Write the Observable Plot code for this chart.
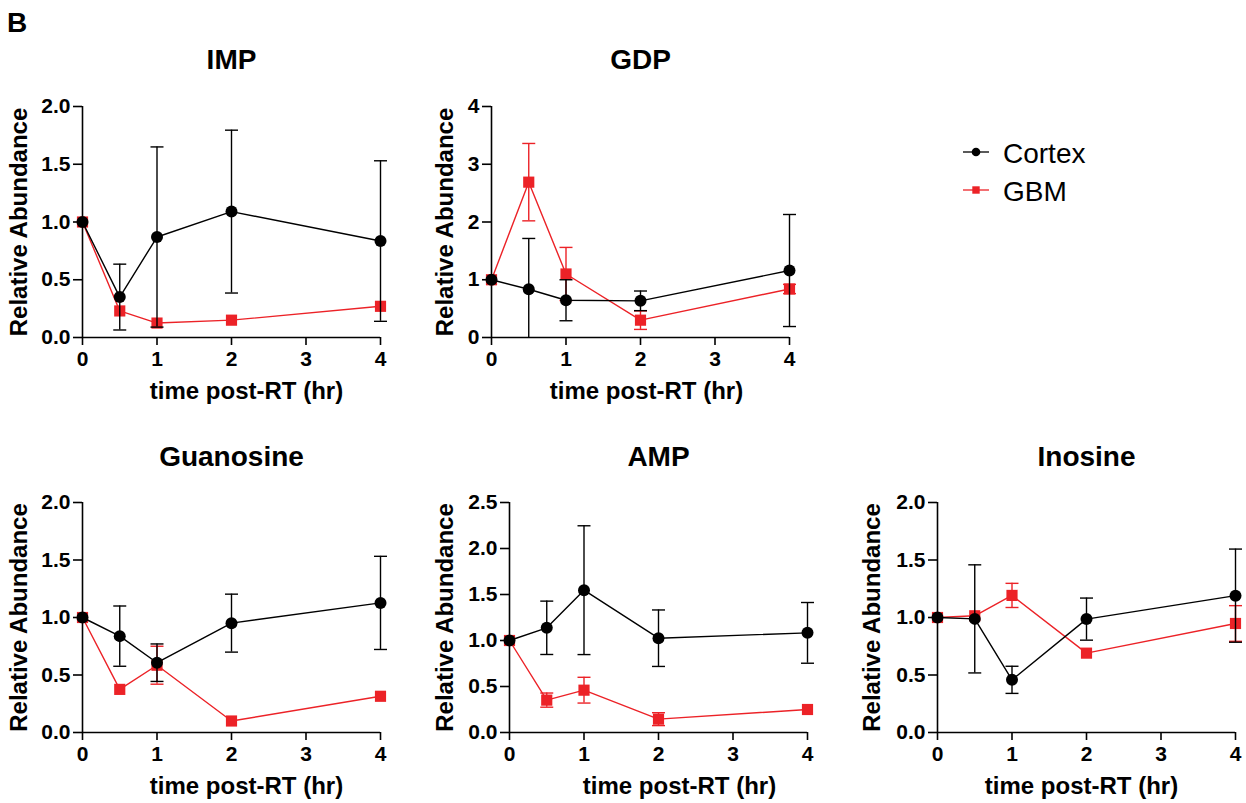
<!DOCTYPE html>
<html>
<head>
<meta charset="utf-8">
<script src="https://cdn.jsdelivr.net/npm/d3@7"></script>
<script src="https://cdn.jsdelivr.net/npm/@observablehq/plot@0.6"></script>
<style>
  html, body { margin: 0; padding: 0; background: #fff; }
  #page { position: relative; width: 1246px; height: 803px; overflow: hidden; background: #fff;
          font-family: "Liberation Sans", Arial, Helvetica, sans-serif; }
  #page > svg, #page > div { position: absolute; }
</style>
</head>
<body>
<div id="page"></div>
<script>
// ---------- data ----------
const times = [0, 0.5, 1, 2, 4];
const xTicks = [0, 1, 2, 3, 4];
const seriesNames = ["Cortex", "GBM"];

const impCortex    = [1.00, 0.35, 0.87, 1.09, 0.835];
const impCortexErr = [0.00, 0.285, 0.78, 0.705, 0.695];
const impGBM       = [1.00, 0.23, 0.125, 0.15, 0.27];
const impGBMErr    = [0.00, 0.00, 0.00, 0.00, 0.00];

const gdpCortex    = [1.00, 0.835, 0.645, 0.635, 1.16];
const gdpCortexErr = [0.00, 0.88, 0.355, 0.17, 0.97];
const gdpGBM       = [1.00, 2.69, 1.10, 0.30, 0.84];
const gdpGBMErr    = [0.00, 0.67, 0.46, 0.16, 0.08];

const guaCortex    = [1.00, 0.838, 0.607, 0.951, 1.127];
const guaCortexErr = [0.00, 0.262, 0.163, 0.252, 0.405];
const guaGBM       = [1.00, 0.375, 0.585, 0.10, 0.315];
const guaGBMErr    = [0.00, 0.00, 0.165, 0.00, 0.00];

const ampCortex    = [1.00, 1.138, 1.547, 1.025, 1.083];
const ampCortexErr = [0.00, 0.29, 0.70, 0.307, 0.33];
const ampGBM       = [1.00, 0.352, 0.46, 0.145, 0.25];
const ampGBMErr    = [0.00, 0.077, 0.14, 0.07, 0.00];

const inoCortex    = [1.00, 0.988, 0.458, 0.986, 1.19];
const inoCortexErr = [0.00, 0.47, 0.118, 0.183, 0.405];
const inoGBM       = [1.00, 1.015, 1.192, 0.69, 0.948];
const inoGBMErr    = [0.00, 0.00, 0.105, 0.00, 0.155];

const yTicks2  = [0, 0.5, 1, 1.5, 2];
const yTicks4  = [0, 1, 2, 3, 4];
const yTicks25 = [0, 0.5, 1, 1.5, 2, 2.5];

const panelTitles = ["IMP", "GDP", "Guanosine", "AMP", "Inosine"];
const xLabel = "time post-RT (hr)";
const yLabel = "Relative Abundance";

// ---------- styles / layout ----------
const BLACK = "#000000";
const RED = "#ec2227";
const FONT = "'Liberation Sans', Arial, Helvetica, sans-serif";

const panels = [
  {title: panelTitles[0], cortex: impCortex, cortexErr: impCortexErr, gbm: impGBM, gbmErr: impGBMErr,
   ymax: 2, yTicks: yTicks2, fmt: d3.format(".1f"),
   left: 0, top: 30, width: 420, mL: 82, mR: 40, mT: 76, mB: 71, titleDy: -46, xlDx: 15, ylDx: -73},
  {title: panelTitles[1], cortex: gdpCortex, cortexErr: gdpCortexErr, gbm: gdpGBM, gbmErr: gdpGBMErr,
   ymax: 4, yTicks: yTicks4, fmt: d3.format("d"),
   left: 410, top: 30, width: 420, mL: 81, mR: 41, mT: 76, mB: 71, titleDy: -46, xlDx: 6, ylDx: -56},
  {title: panelTitles[2], cortex: guaCortex, cortexErr: guaCortexErr, gbm: guaGBM, gbmErr: guaGBMErr,
   ymax: 2, yTicks: yTicks2, fmt: d3.format(".1f"),
   left: 0, top: 425, width: 420, mL: 82, mR: 40, mT: 77, mB: 71, titleDy: -45, xlDx: 15, ylDx: -73},
  {title: panelTitles[3], cortex: ampCortex, cortexErr: ampCortexErr, gbm: ampGBM, gbmErr: ampGBMErr,
   ymax: 2.5, yTicks: yTicks25, fmt: d3.format(".1f"),
   left: 428, top: 425, width: 420, mL: 81, mR: 41, mT: 77, mB: 71, titleDy: -45, xlDx: 21, ylDx: -74},
  {title: panelTitles[4], cortex: inoCortex, cortexErr: inoCortexErr, gbm: inoGBM, gbmErr: inoGBMErr,
   ymax: 2, yTicks: yTicks2, fmt: d3.format(".1f"),
   left: 856, top: 425, width: 390, mL: 81, mR: 11, mT: 77, mB: 71, titleDy: -45, xlDx: -5, ylDx: -75}
];

// horizontal error-bar cap as a custom symbol
const capSymbol = {
  draw(context, size) {
    const r = Math.sqrt(size / Math.PI);
    context.moveTo(-r, 0);
    context.lineTo(r, 0);
  }
};

function rows(means, errs) {
  return times.map((t, i) => ({
    t, m: means[i], e: errs[i],
    lo: Math.max(0, means[i] - errs[i]), hi: means[i] + errs[i]
  }));
}

function seriesMarks(data, color, symbol, r) {
  const withErr = data.filter(d => d.e > 0);
  return [
    Plot.ruleX(withErr, {x: "t", y1: "lo", y2: "hi", stroke: color, strokeWidth: 1.4}),
    Plot.dot(withErr, {x: "t", y: "hi", symbol: capSymbol, r: 6.5, fill: "none", stroke: color, strokeWidth: 1.4}),
    Plot.dot(withErr.filter(d => d.lo > 0), {x: "t", y: "lo", symbol: capSymbol, r: 6.5, fill: "none", stroke: color, strokeWidth: 1.4}),
    Plot.line(data, {x: "t", y: "m", stroke: color, strokeWidth: 1.4}),
    Plot.dot(data, {x: "t", y: "m", symbol, r, fill: color, stroke: "none"})
  ];
}

const page = document.getElementById("page");
const H = 378;

for (const p of panels) {
  const chart = Plot.plot({
    width: p.width, height: H,
    marginLeft: p.mL, marginRight: p.mR, marginTop: p.mT, marginBottom: p.mB,
    style: {fontFamily: FONT, fontWeight: "bold", fontSize: "21px", color: BLACK, background: "transparent", overflow: "visible"},
    x: {domain: [0, 4]},
    y: {domain: [0, p.ymax]},
    marks: [
      Plot.axisX({ticks: xTicks, tickFormat: d3.format("d"), tickSize: 8, tickPadding: 6, strokeWidth: 1.6, fontSize: 21, label: null}),
      Plot.axisY({ticks: p.yTicks, tickFormat: p.fmt, tickSize: 9, tickPadding: 3, strokeWidth: 1.6, fontSize: 21, label: null}),
      Plot.ruleY([0], {stroke: BLACK, strokeWidth: 1.6}),
      Plot.ruleX([0], {stroke: BLACK, strokeWidth: 1.6}),
      ...seriesMarks(rows(p.gbm, p.gbmErr), RED, "square", 6.3),
      ...seriesMarks(rows(p.cortex, p.cortexErr), BLACK, "circle", 6),
      Plot.text([p.title], {text: d => d, frameAnchor: "top", dy: p.titleDy, lineAnchor: "middle",
                            fontSize: 28, fontWeight: "bold", fill: BLACK}),
      Plot.text([xLabel], {text: d => d, frameAnchor: "bottom", dy: 44, dx: p.xlDx, lineAnchor: "top",
                           fontSize: 24, fontWeight: "bold", fill: BLACK}),
      Plot.text([yLabel], {text: d => d, frameAnchor: "left", rotate: -90, dx: p.ylDx, lineAnchor: "top",
                           textAnchor: "middle", fontSize: 24, fontWeight: "bold", fill: BLACK})
    ]
  });
  chart.style.left = p.left + "px";
  chart.style.top = p.top + "px";
  chart.style.position = "absolute";
  page.appendChild(chart);
}

// ---------- panel letter + legend ----------
const over = d3.select(page).append("svg")
  .attr("width", 1246).attr("height", 803)
  .style("left", "0px").style("top", "0px").style("position", "absolute")
  .style("pointer-events", "none")
  .style("font-family", FONT);

over.append("text").attr("x", 7).attr("y", 32)
  .attr("font-size", 28).attr("font-weight", "bold").text("B");

const legendItems = [
  {name: seriesNames[0], color: BLACK, sym: "circle", y: 152},
  {name: seriesNames[1], color: RED, sym: "square", y: 190}
];
for (const it of legendItems) {
  const g = over.append("g");
  g.append("line").attr("x1", 963).attr("x2", 989).attr("y1", it.y).attr("y2", it.y)
    .attr("stroke", it.color).attr("stroke-width", 1.3);
  if (it.sym === "circle") {
    g.append("circle").attr("cx", 976).attr("cy", it.y).attr("r", 4.3).attr("fill", it.color);
  } else {
    g.append("rect").attr("x", 972.3).attr("y", it.y - 3.7).attr("width", 7.4).attr("height", 7.4).attr("fill", it.color);
  }
  g.append("text").attr("x", 1003).attr("y", it.y + 11).attr("font-size", 28)
    .attr("fill", BLACK).text(it.name);
}
</script>
</body>
</html>
